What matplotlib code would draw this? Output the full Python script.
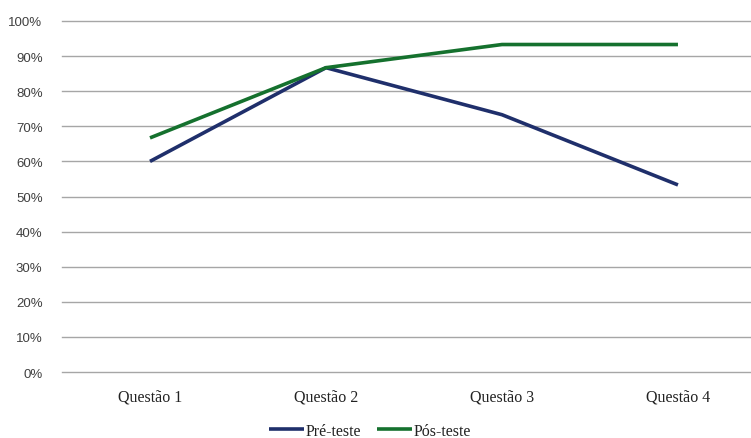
import matplotlib
matplotlib.use("Agg")
import matplotlib.pyplot as plt
from matplotlib.ticker import PercentFormatter

categories = ["Questão 1", "Questão 2", "Questão 3", "Questão 4"]
pre_teste = [60.0, 86.7, 73.3, 53.3]
pos_teste = [66.7, 86.7, 93.3, 93.3]
series_names = ["Pré-teste", "Pós-teste"]

fig = plt.figure(figsize=(7.51, 4.39), dpi=100)
ax = fig.add_axes([62/751, 1-373/439, 1-62/751, (373-22)/439])

x = list(range(len(categories)))
ax.plot(x, pre_teste, color="#1f2f6b", lw=2.6, label=series_names[0], solid_capstyle="butt", zorder=3)
ax.plot(x, pos_teste, color="#15712e", lw=2.6, label=series_names[1], solid_capstyle="butt", zorder=3)

ax.set_ylim(0, 100)
ax.set_xlim(-0.5, 3.415)
ax.set_yticks(range(0, 101, 10))
ax.yaxis.set_major_formatter(PercentFormatter(decimals=0))
ax.grid(axis="y", color="#a6a6a6", lw=1.0)
for gl in ax.get_ygridlines():
    gl.set_clip_on(False)
ax.set_axisbelow(True)
for s in ax.spines.values():
    s.set_visible(False)
ax.tick_params(axis="both", length=0)
ax.tick_params(axis="y", pad=14, labelsize=9.5, labelcolor="#404040")
for lbl in ax.get_yticklabels():
    lbl.set_family("Liberation Sans")
ax.set_xticks(x)
ax.set_xticklabels(categories, family="Liberation Serif", fontsize=11.5, color="#222222")
ax.tick_params(axis="x", pad=12)

leg = fig.legend(loc="center", bbox_to_anchor=(370/751, 1-432/439), ncol=2, frameon=False,
                 prop={"family": "Liberation Serif", "size": 11.5}, handlelength=2.2,
                 handletextpad=0.1, columnspacing=1.0)
for t in leg.get_texts():
    t.set_color("#222222")

fig.savefig("out.png", dpi=100)
